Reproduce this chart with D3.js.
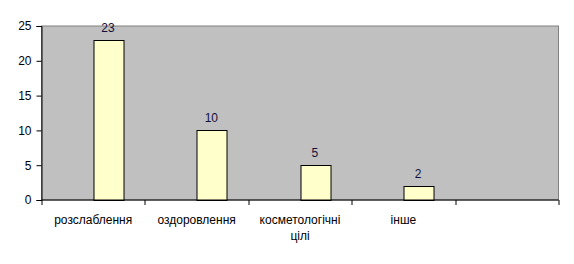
<!DOCTYPE html>
<html>
<head>
<meta charset="utf-8">
<script src="https://cdn.jsdelivr.net/npm/d3@7"></script>
<style>
  html, body { margin: 0; padding: 0; background: #fff; }
  svg { display: block; }
  text { font-family: "Liberation Sans", Arial, sans-serif; }
</style>
</head>
<body>
<div id="chart"></div>
<script>
const categories = [["розслаблення"], ["оздоровлення"], ["косметологічні", "цілі"], ["інше"], [""]];
const values = [23, 10, 5, 2, null];
const seriesNames = ["s0", "s1"]; // first series empty, second carries the values
const yTicks = [0, 5, 10, 15, 20, 25];

const W = 574, H = 264;
const margin = { left: 41.5, top: 26, right: 15.5, bottom: 64 };
const pw = W - margin.left - margin.right;
const ph = H - margin.top - margin.bottom;

const svg = d3.select("#chart").append("svg").attr("width", W).attr("height", H);
const g = svg.append("g").attr("transform", `translate(${margin.left},${margin.top})`);

const x = d3.scaleBand().domain(d3.range(categories.length)).range([0, pw]).padding(0);
const xs = d3.scaleBand().domain(seriesNames).range([0, x.bandwidth()]).paddingInner(0).paddingOuter(0.75);
const y = d3.scaleLinear().domain([0, 25]).range([ph, 0]);

// plot area
g.append("rect").attr("x", 0).attr("y", 0).attr("width", pw).attr("height", ph)
  .attr("fill", "#c0c0c0").attr("stroke", "#808080").attr("stroke-width", 1);

// bars
const data = values.map((v, i) => ({ i, v })).filter(d => d.v != null);
g.selectAll("rect.bar").data(data).enter().append("rect").attr("class", "bar")
  .attr("x", d => Math.round(x(d.i) + xs("s1")) + 0.5)
  .attr("y", d => Math.round(y(d.v)) + 0.5)
  .attr("width", Math.round(xs.bandwidth()))
  .attr("height", d => Math.round(ph - y(d.v)))
  .attr("fill", "#ffffcc").attr("stroke", "#000").attr("stroke-width", 1);

// value labels
g.selectAll("text.lbl").data(data).enter().append("text").attr("class", "lbl")
  .attr("x", d => x(d.i) + xs("s1") + xs.bandwidth() / 2)
  .attr("y", d => y(d.v) - 8)
  .attr("text-anchor", "middle").attr("font-size", "12px").attr("fill", "#10103a")
  .text(d => d.v);

// y axis
const yAxis = d3.axisLeft(y).tickValues(yTicks).tickSize(5).tickPadding(5);
const ya = g.append("g").call(yAxis);
ya.select(".domain").attr("stroke", "#000");
ya.selectAll(".tick line").attr("stroke", "#000");
ya.selectAll(".tick text").attr("font-size", "12px").attr("fill", "#000")
  .style("font-family", "'Liberation Sans', Arial, sans-serif");

// x axis (ticks at category boundaries)
const xa = g.append("g").attr("transform", `translate(0,${ph})`);
xa.append("line").attr("x1", 0).attr("x2", pw).attr("y1", 0).attr("y2", 0).attr("stroke", "#000");
const bounds = d3.range(categories.length + 1).map(i => i < categories.length ? x(i) : pw);
xa.selectAll("line.tk").data(bounds).enter().append("line").attr("class", "tk")
  .attr("x1", d => Math.round(d) + 0.5).attr("x2", d => Math.round(d) + 0.5)
  .attr("y1", 0).attr("y2", 5).attr("stroke", "#000");
const lbls = xa.selectAll("text.cat").data(categories).enter().append("text").attr("class", "cat")
  .attr("x", (d, i) => x(i) + x.bandwidth() / 2)
  .attr("y", 24)
  .attr("text-anchor", "middle").attr("font-size", "12px").attr("fill", "#000");
lbls.each(function(lines) {
  const t = d3.select(this);
  lines.forEach((s, k) => {
    t.append("tspan").attr("x", t.attr("x")).attr("dy", k === 0 ? 0 : 16).text(s);
  });
});
</script>
</body>
</html>
